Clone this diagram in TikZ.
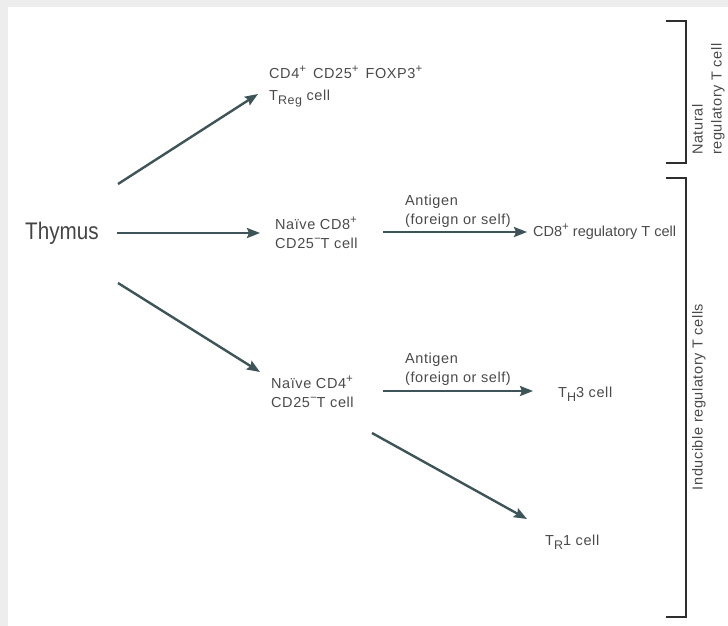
\documentclass[tikz,border=0pt]{standalone}
\usepackage{fontspec}
\usepackage{graphicx}
\setmainfont{Liberation Sans}[LetterSpace=4]
\newfontfamily\thymusfont{Liberation Sans}[FakeStretch=0.86]
\usetikzlibrary{arrows.meta,calc}

\definecolor{labelgray}{HTML}{4A4A4A}
\definecolor{thymusgray}{HTML}{444444}
\definecolor{arrowteal}{HTML}{3E5458}
\definecolor{bracketgray}{HTML}{2E2E2E}
\definecolor{framegray}{HTML}{EDEDED}

% raised and lowered marks for the cell markers
\newcommand\mksup[1]{\raisebox{0.4em}{\fontsize{11.5}{11.5}\selectfont #1}}
\newcommand\mksub[1]{\raisebox{-0.3em}{\fontsize{12.5}{12.5}\selectfont #1}}

\begin{document}
\begin{tikzpicture}[x=1pt,y=-1pt,
  lbl/.style={inner sep=0pt, anchor=base west, align=left, text=labelgray,
              font=\fontsize{14.5}{19}\selectfont},
  arr/.style={draw=arrowteal, line width=2.4pt,
              -{Stealth[length=13pt,width=10pt,inset=2pt]}},
  brk/.style={draw=bracketgray, line width=1.3pt}]
  \useasboundingbox (0,0) rectangle (728,626);
  % light frame along the top and left edges
  \fill[framegray] (0,0) rectangle (728,7);
  \fill[framegray] (0,0) rectangle (8,626);

  % cells (multi-line nodes are placed by the baseline of their last line)
  \node[lbl, font=\thymusfont\fontsize{24}{24}\selectfont, text=thymusgray]
    (thymus) at (25,239) {Thymus};
  \node[lbl] (treg) at (269,100)
    {CD4\mksup{+}\, CD25\mksup{+}\, FOXP3\mksup{+}\\[3pt]T\mksub{Reg} cell};
  \node[lbl] (cd8) at (275,248) {Naïve CD8\mksup{+}\\CD25\mksup{−}T cell};
  \node[lbl] (cd4) at (271,407) {Naïve CD4\mksup{+}\\CD25\mksup{−}T cell};
  \node[lbl, font=\fontsize{14.5}{19}\selectfont\addfontfeature{LetterSpace=0}]
    (cd8reg) at (533,236) {CD8\mksup{+} regulatory T cell};
  \node[lbl] (th3) at (558,397) {T\mksub{H}3 cell};
  \node[lbl] (tr1) at (545,545) {T\mksub{R}1 cell};

  % antigen labels over the activation arrows
  \node[lbl] (ag8) at (405,224) {Antigen\\(foreign or self)};
  \node[lbl] (ag4) at (405,382) {Antigen\\(foreign or self)};

  % differentiation arrows
  \draw[arr] ($(thymus.base west)+(93,-55)$) -- ($(treg.base west)+(-11,-6)$);
  \draw[arr] ($(thymus.base west)+(92,-6)$) -- ($(cd8.base west)+(-15,-15)$);
  \draw[arr] ($(thymus.base west)+(93,44)$) -- ($(cd4.base west)+(-11,-35)$);
  \draw[arr] ($(cd8.base west)+(108,-16)$) -- ($(cd8reg.base west)+(-6,-4)$);
  \draw[arr] ($(cd4.base west)+(112,-16)$) -- ($(th3.base west)+(-25,-6)$);
  \draw[arr] ($(cd4.base west)+(101,26)$) -- ($(tr1.base west)+(-18,-26)$);

  % brackets with their group labels
  \draw[brk] (666,21) -- (686,21) -- (686,163) -- (666,163);
  \draw[brk] (666,178) -- (686,178) -- (686,617) -- (666,617);
  \node[lbl, rotate=90, anchor=north west] (natural) at (692,155)
    {Natural\\regulatory T cell};
  \node[lbl, rotate=90, anchor=north] (inducible) at (692,397)
    {Inducible regulatory T cells};
\end{tikzpicture}
\end{document}
